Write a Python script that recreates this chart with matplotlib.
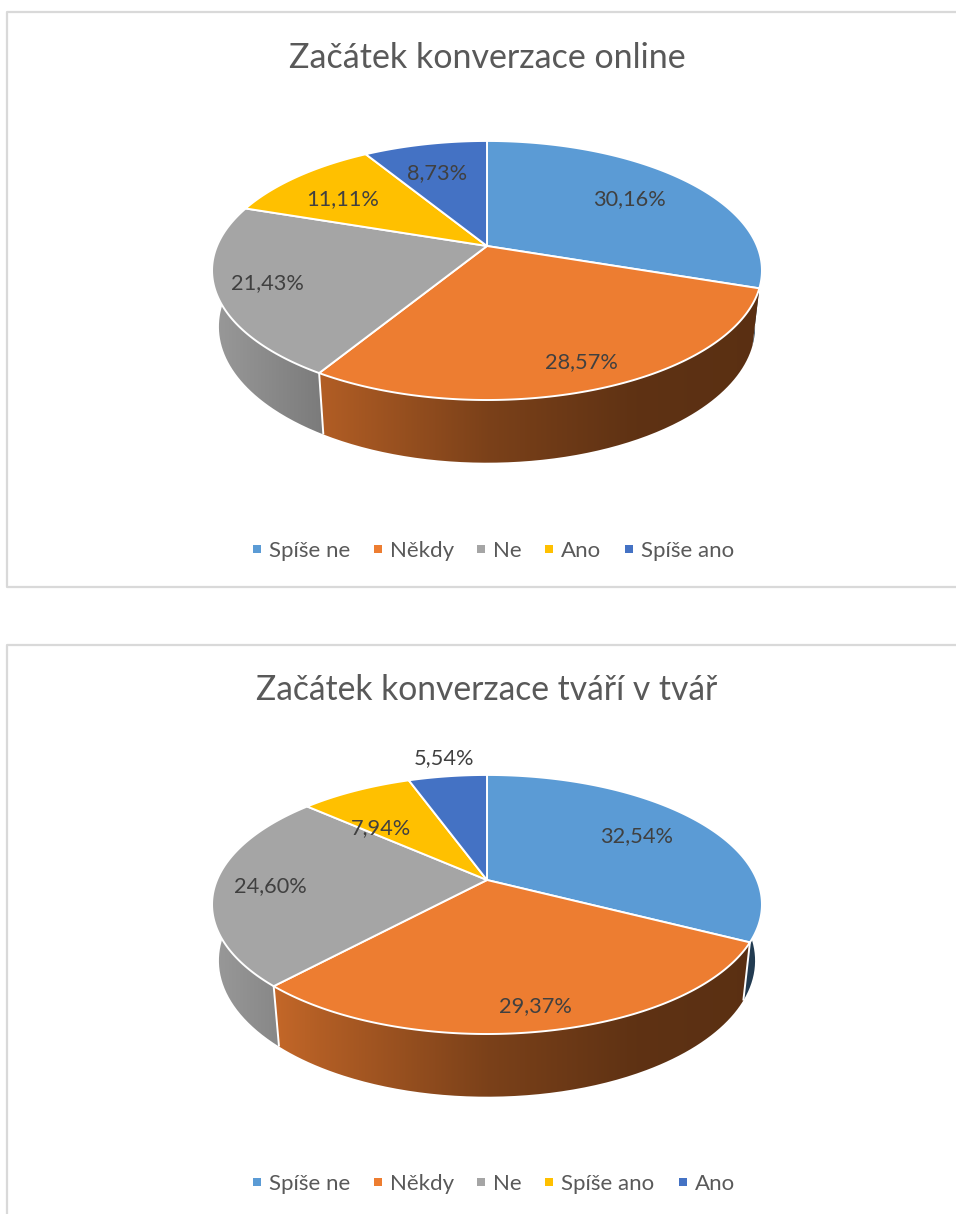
import numpy as np
import matplotlib
matplotlib.use("Agg")
import matplotlib.pyplot as plt
from matplotlib.path import Path
from matplotlib.patches import PathPatch, Rectangle

# ---- data ----
title_a = "Začátek konverzace online"
cats_a = ["Spíše ne", "Někdy", "Ne", "Ano", "Spíše ano"]
vals_a = [30.16, 28.57, 21.43, 11.11, 8.73]

title_b = "Začátek konverzace tváří v tvář"
cats_b = ["Spíše ne", "Někdy", "Ne", "Spíše ano", "Ano"]
vals_b = [32.54, 29.37, 24.60, 7.94, 5.54]

colors = ["#5B9BD5", "#ED7D31", "#A5A5A5", "#FFC000", "#4472C4"]
# ---- layout (pixels) ----
W, H = 956, 1214
FONT = "Lato"
label_pos_a = [(629, 199), (581, 362), (267, 283), (343, 199), (437, 173)]
label_pos_b = [(637, 836), (535, 1006), (270, 886), (381, 828), (444, 758)]
legend_marker_x = {
    "a": [257, 378, 481, 549, 629],
    "b": [257, 378, 481, 549, 683],
}
R, K, A = 270.0, 0.189, 124.9
SX, SY, DROP = 0.975, 1.05, 55.0

fig = plt.figure(figsize=(W / 100, H / 100), dpi=100, facecolor="white")
ax = fig.add_axes([0, 0, 1, 1])
ax.set_axis_off()


def rim(theta, cx, cy, bottom=False):
    """Project a circle angle (clockwise from 12 o'clock) to the tilted pie."""
    x, y = np.sin(theta), np.cos(theta)
    d = 1 + K * y
    u, v = R * x / d, A * y / d
    if bottom:
        u, v = u * SX, v * SY - DROP
    return cx + u, cy - v


def shade(px):
    """Brightness of the side wall along x, relative to the pie centre."""
    return np.interp(px, [-275, -167, 0, 150, 275], [0.93, 0.75, 0.52, 0.40, 0.38])


def draw_pie(values, cx, cy, label_pos):
    fr = np.cumsum([0] + list(values)) / sum(values) * 2 * np.pi
    # side walls first; the tops cover whatever lies behind them
    xs = np.arange(cx - 280, cx + 281)
    for i, c in enumerate(colors):
        t = np.linspace(fr[i], fr[i + 1], 200)
        tx, ty = rim(t, cx, cy)
        bx, by = rim(t[::-1], cx, cy, bottom=True)
        pts = np.column_stack([np.r_[tx, bx], np.r_[ty, by]])
        poly = PathPatch(Path(np.r_[pts, pts[:1]]), fc="none", ec="none", transform=ax.transData)
        ax.add_patch(poly)
        rgb = np.array(matplotlib.colors.to_rgb(c))
        grad = (shade(xs - cx)[:, None] * rgb)[None, :, :]
        im = ax.imshow(grad, extent=(xs[0], xs[-1], cy + 260, cy - 160), aspect="auto", zorder=1, interpolation="bilinear")
        im.set_clip_path(poly)
    for a in fr[:-1]:
        # a seam that sits on the pie's silhouette is not visible as a white line
        if np.degrees(a) < 112:
            continue
        tx, ty = rim(a, cx, cy)
        bx, by = rim(a, cx, cy, bottom=True)
        ax.plot([tx, bx], [ty, by], color="white", lw=1.4, zorder=2, solid_capstyle="butt")
    # tops
    for i, c in enumerate(colors):
        t = np.linspace(fr[i], fr[i + 1], 300)
        tx, ty = rim(t, cx, cy)
        verts = np.r_[[[cx, cy]], np.column_stack([tx, ty]), [[cx, cy]]]
        ax.add_patch(PathPatch(Path(verts, closed=True), fc=c, ec="white", lw=1.4, zorder=3, joinstyle="round"))
    for v, (lx, ly) in zip(values, label_pos):
        ax.text(lx, ly, f"{v:.2f}%".replace(".", ","), ha="center", va="center",
                fontsize=15.7, color="#404040", family=FONT, zorder=5)


def draw_legend(names, marker_x, y):
    for name, mx, c in zip(names, marker_x, colors):
        ax.add_patch(Rectangle((mx - 4, y - 4), 8, 8, fc=c, ec="none", zorder=5))
        ax.text(mx + 12, y, name, ha="left", va="center_baseline", fontsize=16, color="#595959", family=FONT, zorder=5)


# chart frames
frame = dict(color="#D9D9D9", lw=1.6, solid_capstyle="butt", zorder=0)
ax.plot([W, 7, 7, W], [12, 12, 587, 587], **frame)
ax.plot([W, 7, 7], [645, 645, H], **frame)

ax.text(487, 58, title_a, ha="center", va="center", fontsize=24.5, color="#595959", family=FONT)
ax.text(487, 690, title_b, ha="center", va="center", fontsize=24.2, color="#595959", family=FONT)

draw_pie(vals_a, 487, 246, label_pos_a)
draw_pie(vals_b, 487, 880, label_pos_b)
draw_legend(cats_a, legend_marker_x["a"], 549)
draw_legend(cats_b, legend_marker_x["b"], 1182)

ax.set_xlim(0, W)
ax.set_ylim(H, 0)
fig.savefig("out.png", dpi=100, facecolor="white")
